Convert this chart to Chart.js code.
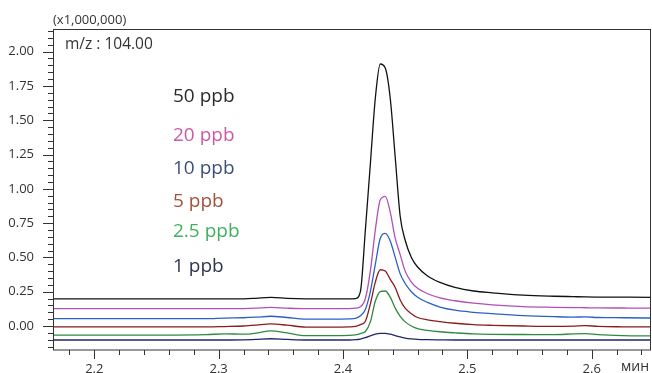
<!DOCTYPE html>
<html>
<head>
<meta charset="utf-8">
<script src="https://cdn.jsdelivr.net/npm/chart.js@4"></script>
<style>
  html, body { margin: 0; padding: 0; background: #fff; }
  #chart { display: block; }
</style>
</head>
<body>
<canvas id="chart" width="652" height="373"></canvas>
<script>
/* DATA (intensity x1,000,000 vs time in min) */
const times = [2.165, 2.20, 2.25, 2.29, 2.305, 2.32, 2.33, 2.342, 2.355, 2.37, 2.39, 2.405, 2.410, 2.414, 2.418, 2.422, 2.426, 2.430, 2.434, 2.438, 2.442, 2.446, 2.450, 2.455, 2.460, 2.468, 2.478, 2.490, 2.505, 2.52, 2.545, 2.57, 2.585, 2.595, 2.605, 2.625, 2.650];

const ppb50  = [0.197, 0.197, 0.197, 0.197, 0.197, 0.198, 0.202, 0.208, 0.202, 0.198, 0.197, 0.198, 0.200, 0.25, 0.70, 1.18, 1.66, 1.91, 1.88, 1.66, 1.23, 0.80, 0.625, 0.50, 0.43, 0.365, 0.318, 0.282, 0.255, 0.242, 0.225, 0.217, 0.214, 0.212, 0.211, 0.210, 0.209];
const ppb20  = [0.126, 0.126, 0.126, 0.126, 0.126, 0.127, 0.130, 0.136, 0.130, 0.126, 0.126, 0.127, 0.130, 0.14, 0.20, 0.40, 0.70, 0.92, 0.945, 0.83, 0.64, 0.52, 0.40, 0.32, 0.275, 0.235, 0.205, 0.184, 0.166, 0.154, 0.141, 0.136, 0.134, 0.133, 0.132, 0.131, 0.130];
const ppb10  = [0.053, 0.053, 0.053, 0.053, 0.058, 0.060, 0.064, 0.071, 0.062, 0.050, 0.050, 0.052, 0.056, 0.075, 0.12, 0.25, 0.45, 0.64, 0.675, 0.62, 0.50, 0.38, 0.31, 0.25, 0.21, 0.172, 0.138, 0.115, 0.100, 0.090, 0.076, 0.068, 0.065, 0.066, 0.062, 0.060, 0.058];
const ppb5   = [-0.007, -0.007, -0.007, -0.007, -0.004, 0.000, 0.006, 0.015, 0.006, -0.008, -0.008, -0.006, -0.002, 0.010, 0.035, 0.16, 0.32, 0.41, 0.40, 0.34, 0.28, 0.19, 0.13, 0.090, 0.062, 0.045, 0.032, 0.020, 0.010, 0.005, 0.000, -0.003, -0.001, 0.003, -0.003, -0.006, -0.007];
const ppb2_5 = [-0.066, -0.066, -0.066, -0.063, -0.057, -0.060, -0.052, -0.035, -0.050, -0.070, -0.070, -0.068, -0.064, -0.055, -0.04, 0.03, 0.18, 0.25, 0.255, 0.21, 0.13, 0.07, 0.03, 0.0, -0.02, -0.032, -0.042, -0.05, -0.058, -0.061, -0.062, -0.063, -0.058, -0.056, -0.063, -0.070, -0.073];
const ppb1   = [-0.102, -0.102, -0.102, -0.102, -0.102, -0.101, -0.098, -0.093, -0.098, -0.102, -0.102, -0.102, -0.100, -0.095, -0.085, -0.072, -0.060, -0.054, -0.054, -0.060, -0.070, -0.080, -0.088, -0.094, -0.098, -0.100, -0.101, -0.102, -0.102, -0.102, -0.102, -0.102, -0.102, -0.102, -0.102, -0.102, -0.102];

const seriesLabels = ["50 ppb", "20 ppb", "10 ppb", "5 ppb", "2.5 ppb", "1 ppb"];
const seriesValues = [ppb50, ppb20, ppb10, ppb5, ppb2_5, ppb1];
const lineColors   = ["#111111", "#b24fba", "#2a62c4", "#8a1c1c", "#2f8a40", "#22266a"];
const labelColors  = ["#2b2b2b", "#c95aa8", "#3d4f78", "#a0533a", "#40b060", "#2f3550"];
const labelBaselines = [102, 141, 174, 207, 237, 272];

/* AXIS RANGE */
const xMin = 2.1668, xMax = 2.6477;
const yMin = -0.175, yMax = 2.165;

function isMultiple(v, step) {
    const r = v / step;
    return Math.abs(r - Math.round(r)) < 1e-6;
}

/* TICKS, FRAME, TEXT */
const decor = {
    id: 'decor',
    afterDraw(chart) {
        const { ctx, chartArea: a, scales: { x, y } } = chart;
        ctx.save();
        ctx.strokeStyle = '#333';
        ctx.lineWidth = 1;
        ctx.strokeRect(a.left + 0.5, a.top + 0.5, a.right - a.left - 1, a.bottom - a.top - 0.5);

        ctx.beginPath();
        y.ticks.forEach(t => {
            const py = Math.round(y.getPixelForValue(t.value)) + 0.5;
            const len = isMultiple(t.value, 0.25) ? 10 : 5;
            ctx.moveTo(a.left, py);
            ctx.lineTo(a.left - len, py);
        });
        x.ticks.forEach(t => {
            const px = Math.round(x.getPixelForValue(t.value)) + 0.5;
            const len = isMultiple(t.value, 0.1) ? 9 : 5;
            ctx.moveTo(px, a.bottom);
            ctx.lineTo(px, a.bottom + len);
        });
        ctx.stroke();

        ctx.fillStyle = '#333';
        ctx.textAlign = 'left';
        ctx.textBaseline = 'alphabetic';
        ctx.font = '13px "Open Sans"';
        ctx.fillText('(x1,000,000)', 53, 24);
        ctx.font = '15.5px "Open Sans"';
        ctx.fillText('m/z : 104.00', 65, 49);
        ctx.font = '14px "Open Sans"';
        ctx.fillText('мин', 621, 371);

        ctx.font = '19px "Open Sans"';
        seriesLabels.forEach((lab, i) => {
            ctx.fillStyle = labelColors[i];
            ctx.fillText(lab, 173, labelBaselines[i]);
        });
        ctx.restore();
    }
};

let ctx = document.getElementById("chart").getContext("2d");

let chart = new Chart(ctx, {
    type: 'line',
    data: {
        datasets: seriesValues.map((vals, i) => ({
            label: seriesLabels[i],
            data: times.map((t, j) => ({ x: t, y: vals[j] })),
            borderColor: lineColors[i],
            borderWidth: 1.3,
            pointRadius: 0,
            cubicInterpolationMode: 'monotone',
            fill: false
        }))
    },
    options: {
        responsive: false,
        devicePixelRatio: 1,
        animation: false,
        layout: { padding: { top: 29, right: 1, left: 0, bottom: 0 } },
        plugins: { legend: { display: false }, tooltip: { enabled: false } },
        scales: {
            x: {
                type: 'linear',
                min: xMin,
                max: xMax,
                grid: { display: false, drawTicks: false },
                border: { display: false },
                afterFit: s => {
                    s.height = 23;
                    s.paddingLeft = 0; s.paddingRight = 0;
                },
                ticks: {
                    stepSize: 0.02,
                    includeBounds: false,
                    autoSkip: false,
                    maxRotation: 0,
                    padding: 11,
                    color: '#333',
                    font: { family: 'Open Sans', size: 13 },
                    callback: v => isMultiple(v, 0.1) ? v.toFixed(1) : ''
                }
            },
            y: {
                type: 'linear',
                min: yMin,
                max: yMax,
                grid: { display: false, drawTicks: false },
                border: { display: false },
                afterFit: s => {
                    s.width = 53;
                    s.paddingTop = 0; s.paddingBottom = 0;
                },
                ticks: {
                    stepSize: 0.05,
                    includeBounds: false,
                    autoSkip: false,
                    padding: 19,
                    color: '#333',
                    font: { family: 'Open Sans', size: 13 },
                    callback: v => isMultiple(v, 0.25) ? v.toFixed(2) : ''
                }
            }
        }
    },
    plugins: [decor]
});
</script>
</body>
</html>
